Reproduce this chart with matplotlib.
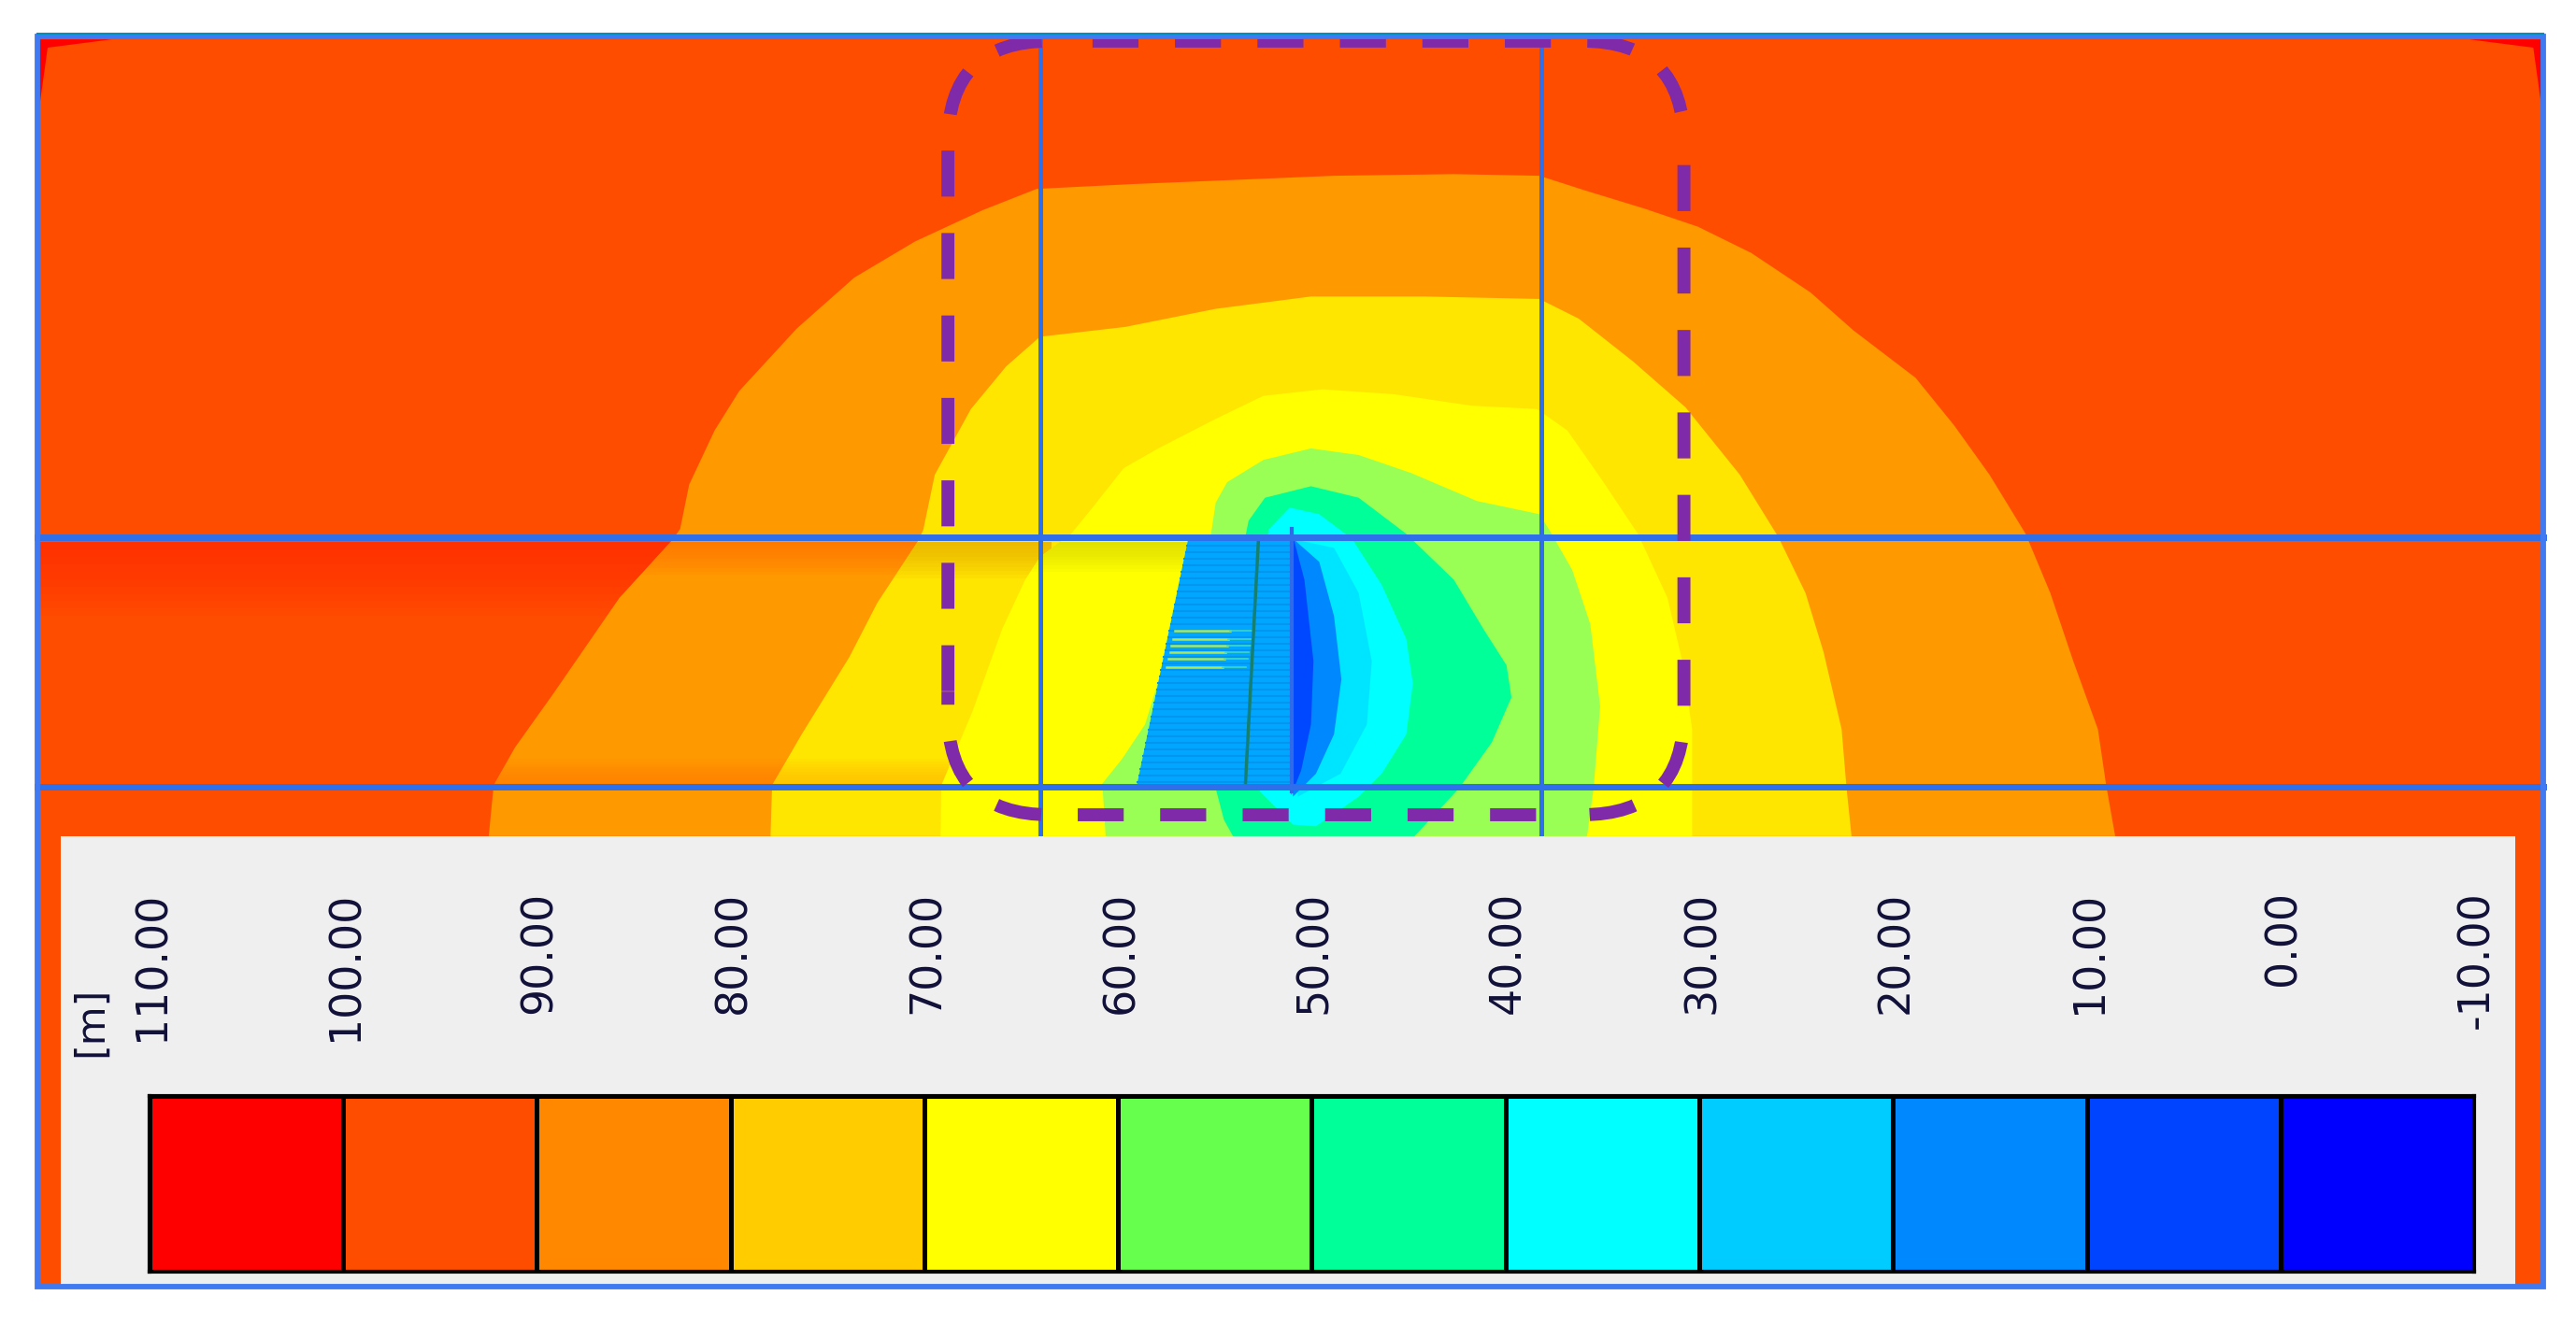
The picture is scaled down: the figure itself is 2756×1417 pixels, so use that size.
import matplotlib
matplotlib.use("Agg")
import matplotlib.pyplot as plt
from matplotlib.colors import ListedColormap
from matplotlib.patches import PathPatch, Rectangle
from matplotlib.path import Path

# legend
levels = [110, 100, 90, 80, 70, 60, 50, 40, 30, 20, 10, 0, -10]
legend_colors = ["#FF0000", "#FF4D00", "#FF8800", "#FFCC00", "#FFFF00", "#66FF4D",
                 "#00FF99", "#00FFFF", "#00CCFF", "#0088FF", "#0044FF", "#0000FF"]

# contour outlines (x, y in picture units, 1568 wide)
band_orange = [(297.5, 509), (300.5, 478), (313.5, 455), (337, 422), (377, 364), (409, 329), (414, 322),
               (419.5, 295), (435, 262), (450, 238), (485, 200), (520, 169), (557, 147), (598, 128),
               (631, 115), (691, 112), (740, 110), (812, 107), (885, 106), (937, 107), (965, 116),
               (1001, 127), (1033.5, 138), (1066, 154), (1102, 178), (1128, 201), (1166, 230),
               (1189.5, 259), (1211, 289), (1233, 325), (1248, 361), (1262, 402.5), (1277, 444),
               (1282, 478), (1287.5, 509)]
band_gold = [(469, 509), (470, 478), (488, 447), (517, 400), (534, 367), (559, 329), (562, 322.5),
             (569, 289), (591, 249), (612.5, 223), (633, 205), (685, 199), (740, 188), (798, 180.5),
             (867, 180.5), (937, 182), (961, 194), (994, 220), (1026, 248), (1059, 289), (1082.5, 327),
             (1099, 361), (1110, 397), (1121, 444), (1124, 480), (1127, 509)]
band_yellow = [(572.5, 509), (573, 478), (592, 433), (610, 383), (624, 353), (633, 339), (652, 325),
               (665, 309), (684, 285), (705, 273), (740, 255), (769, 241), (805, 237), (848.5, 240),
               (896, 247), (935.5, 249), (954, 262), (975, 292), (997, 325), (1015, 364), (1024, 402.5),
               (1030, 444), (1030, 509)]
band_lime = [(673, 509), (671, 477), (683, 462), (697, 441), (705, 415), (723, 329), (737, 326),
             (740, 306), (747, 293.5), (769, 280), (798, 273), (827, 277), (859, 288), (899, 305),
             (937, 313), (943, 322.5), (957, 347), (968, 380), (974, 430), (970, 480), (966, 509)]
band_green = [(750.5, 509), (745, 499), (740, 480), (758, 327), (760, 317), (770, 303), (798, 296),
              (827, 303), (856, 325), (885, 353), (903, 383), (917, 405), (920, 424.5), (908, 452),
              (888, 480), (861, 509)]
band_cyan = [(767, 482), (787, 502), (801, 503), (827, 485), (841, 471), (856, 447), (860, 416),
             (856, 389), (841, 356), (823, 328), (803, 313), (785, 309), (772, 322.5)]
band_sky = [(786, 328), (812, 333.5), (827, 361), (835, 402.5), (832, 441), (816, 471), (790, 485)]
band_azure = [(786, 327), (803, 342), (812, 375), (816.5, 413.5), (812, 447), (801, 471), (787, 485)]
band_blue = [(786, 322.5), (794, 353), (799.5, 402.5), (798, 441), (792, 469), (786, 484)]

band_outlines = [band_orange, band_gold, band_yellow, band_lime, band_green, band_cyan, band_sky,
                 band_azure, band_blue]
band_colors = ["#FF9900", "#FFE600", "#FFFF00", "#99FF55", "#00FF99", "#00FFFF", "#00E5FF",
               "#0088FF", "#0048FF"]

# darker strips next to the grid lines: band, from y, to y, colour, right limit
shade_index = [0, 0, 1, 1, 2]
shade_from = [330, 478, 330, 478, 330]
shade_to = [350, 462, 352, 462, 348]
shade_colors = ["#FF7000", "#FF7C00", "#E6A800", "#FFB800", "#D8D800"]
shade_right = [640, 640, 640, 640, 723]

# wedge in the middle
wedge_outer = [(723.4, 329), (786, 329), (786, 479), (692, 479)]
wedge_divider = [(766, 329), (758, 479)]
stripe_rows = [332, 336, 340, 344, 348, 352, 356, 360, 364, 368, 372, 376, 380, 384, 388, 392, 396,
               400, 404, 408, 412, 416, 420, 424, 428, 432, 436, 440, 444, 448, 452, 456, 460, 464,
               468, 472, 476]
dash_rows = [384, 389, 393, 397, 401, 406]

# corners with the highest level
corner_left = [(24, 24), (68, 24), (29, 29), (24, 65)]
corner_right = [(1547, 24), (1503, 24), (1542, 29), (1547, 65)]

# frame and grid
frame_x = [23, 1548]
frame_y = [22, 783]
grid_x = [633, 938]
grid_y = [327, 479]
panel_x = [37, 1531]
panel_top = 509

# dashed outline: box, corner radius, tail past each corner, first dash along each side
box_x = [577, 1025]
box_y = [25, 496]
box_radius = 62
box_tail = 13
side_phase = [13, 0.5, 15, 0.2]


def shade(clip, y_from, y_to, color, left, right):
    steps = 10
    for k in range(steps):
        edge = y_from + (y_to - y_from) * (steps - k) / steps
        rect = Rectangle((left, min(y_from, edge)), right - left, abs(edge - y_from),
                         facecolor=color, edgecolor="none", alpha=0.1, zorder=2)
        ax.add_patch(rect)
        if clip is not None:
            rect.set_clip_path(clip)


def draw_side(points, phase):
    lw = 10
    unit = lw * 100 / 72 / 1.7577
    path = Path(points, [Path.MOVETO, Path.LINETO, Path.CURVE3, Path.CURVE3, Path.LINETO])
    ax.add_patch(PathPatch(path, fill=False, edgecolor="#7F2AA8", lw=lw, capstyle="butt",
                           linestyle=((50.2 - phase) / unit, (28 / unit, 22.2 / unit)), zorder=5))


fig = plt.figure(figsize=(27.56, 14.17), dpi=100)
ax = fig.add_axes([0, 0, 1, 1])
ax.set_xlim(0, 1568)
ax.set_ylim(806, 0)
ax.axis("off")

field = Rectangle((frame_x[0], frame_y[0]), frame_x[1] - frame_x[0], frame_y[1] - frame_y[0],
                  facecolor="#FF4D00", edgecolor="none", zorder=1)
ax.add_patch(field)
for corner in [corner_left, corner_right]:
    ax.fill(*zip(*corner), color="#FF0000", lw=0, zorder=1.5)

# bands are painted outer to inner so each shading stays under the next band
shade(None, 330, 375, "#FF2800", frame_x[0], 409)
for i, (outline, color) in enumerate(zip(band_outlines[:6], band_colors[:6])):
    poly = ax.fill(*zip(*outline), color=color, lw=0, zorder=2)[0]
    for j, y_from, y_to, c, right in zip(shade_index, shade_from, shade_to, shade_colors, shade_right):
        if j == i:
            shade(poly, y_from, y_to, c, frame_x[0], right)

ax.fill(*zip(*wedge_outer), color="#00A6FF", lw=0, zorder=3)
for y in stripe_rows:
    left = 723.4 + (692 - 723.4) * (y - 329) / 150
    ax.plot([left, 786], [y, y], color="#0096F0", lw=1.5, zorder=3.1)
for y in dash_rows:
    left = 723.4 + (692 - 723.4) * (y - 329) / 150 + 3
    ax.plot([left, left + 34], [y, y], color="#A8E860", lw=1.8, zorder=3.2)
    ax.plot([left + 34, left + 48], [y, y], color="#40D8C0", lw=1.2, zorder=3.2)
ax.plot(*zip(*wedge_divider), color="#157F70", lw=2.5, zorder=3.3)

for outline, color in zip(band_outlines[6:], band_colors[6:]):
    ax.fill(*zip(*outline), color=color, lw=0, zorder=3.5)
ax.plot([786, 786], [322, 482], color="#2F6BE8", lw=3, zorder=3.6)

# grid lines stop at the legend panel
line_color = "#2F6FEA"
for x in grid_x:
    ax.plot([x, x], [frame_y[0], panel_top], color=line_color, lw=3.6, zorder=4)
for y in grid_y:
    ax.plot(frame_x, [y, y], color=line_color, lw=5, zorder=4)

# purple dashed outline, one piece per side with its corner
l, r = box_x
t, b = box_y
rad = box_radius
tail = box_tail
draw_side([(l + rad + tail, t), (r - rad, t), (r, t), (r, t + rad), (r, t + rad + 1)], side_phase[0])
draw_side([(r, t + rad + tail), (r, b - rad), (r, b), (r - rad, b), (r - rad - tail, b)], side_phase[1])
draw_side([(r - rad - tail, b), (l + rad, b), (l, b), (l, b - rad), (l, b - rad - tail)], side_phase[2])
draw_side([(l, b - rad - tail), (l, t + rad), (l, t), (l + rad, t), (l + rad + tail, t)], side_phase[3])

# legend panel
ax.add_patch(Rectangle((panel_x[0], panel_top), panel_x[1] - panel_x[0], frame_y[1] - panel_top,
                       facecolor="#EFEFEF", edgecolor="none", zorder=6))
ax.add_patch(Rectangle((frame_x[0], frame_y[0]), frame_x[1] - frame_x[0], frame_y[1] - frame_y[0],
                       fill=False, edgecolor="#3F7AF2", lw=4.2, zorder=7))
ax.plot(frame_x, [frame_y[0] - 1.5, frame_y[0] - 1.5], color="#0090C0", lw=1.5, zorder=7.5)
ax.text(55, 622, "[m]", rotation=90, ha="center", va="center", fontsize=31, color="#101038", zorder=8)

# colour bar sits on its own axes
x0, x1 = 91 / 1568, 1506 / 1568
y0, y1 = 1 - 774 / 806, 1 - 667 / 806
cax = fig.add_axes([x0, y0, x1 - x0, y1 - y0], zorder=10)
cax.pcolormesh(levels, [0, 1], [list(range(12))], cmap=ListedColormap(legend_colors),
               edgecolors="black", linewidth=2.5)
cax.set_xlim(levels[0], levels[-1])
cax.set_ylim(0, 1)
cax.set_xticks([])
cax.set_yticks([])
for spine in cax.spines.values():
    spine.set_linewidth(3)
    spine.set_color("black")

for level in levels:
    cax.text(level - 0.15, 2.165, "%.2f" % level, rotation=90, ha="center", va="top",
             fontsize=33, color="#101038", transform=cax.get_xaxis_transform(), clip_on=False)

fig.savefig("out.png", dpi=100, facecolor="white")
